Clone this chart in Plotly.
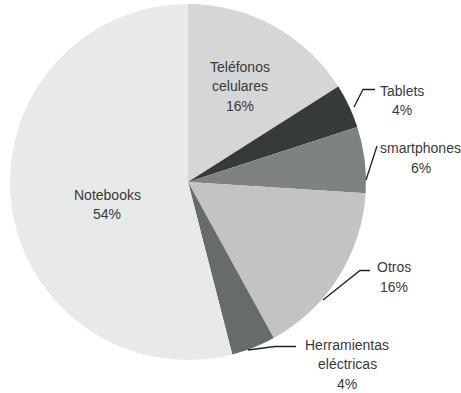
import plotly.graph_objects as go

labels = ["Teléfonos celulares", "Tablets", "smartphones", "Otros", "Herramientas eléctricas", "Notebooks"]
values = [16, 4, 6, 16, 4, 54]
colors = ["#d5d6d6", "#363b3a", "#7e8282", "#c2c3c5", "#676c6b", "#e8e9e9"]
label_text = ["Teléfonos<br>celulares<br>16%", "Tablets<br>4%", "smartphones<br>6%",
              "Otros<br>16%", "Herramientas<br>eléctricas<br>4%", "Notebooks<br>54%"]

W, H = 461, 393
FONT = "'Liberation Sans Narrow', 'Arial Narrow', 'Liberation Sans', Arial, sans-serif"
TXT = "#3a3a3a"
LINE_H = 19.7

def px(x, y):
    return x / W, 1 - y / H

cx, cy, r = 188, 182, 178
fig = go.Figure(go.Pie(
    labels=labels, values=values, sort=False, direction="clockwise", rotation=0,
    marker=dict(colors=colors, line=dict(width=0)),
    textinfo="none", hoverinfo="label+percent", showlegend=False,
    domain=dict(x=[(cx - r) / W, (cx + r) / W], y=[1 - (cy + r) / H, 1 - (cy - r) / H]),
))

# first-line pixel centers of each label block
label_pos = [(240, 66.5), (402, 90.5), (420.5, 148), (394, 267), (347, 344.5), (107, 194.5)]
annotations = []
for t, (x, y) in zip(label_text, label_pos):
    for i, line in enumerate(t.split("<br>")):
        ax_, ay_ = px(x, y + i * LINE_H)
        annotations.append(dict(text=line, x=ax_, y=ay_, xref="paper", yref="paper",
                                showarrow=False, xanchor="center", yanchor="middle",
                                font=dict(family=FONT, size=14, color=TXT)))

leaders = [
    [(354, 107), (363, 89.5), (375, 89.5)],
    [(366, 180), (377, 146)],
    [(323, 300), (360, 270.5), (370, 270.5)],
    [(248, 350), (275, 346.5), (296, 346.5)],
]
shapes = []
for pts in leaders:
    path = "M " + " L ".join(f"{px(x, y)[0]:.5f},{px(x, y)[1]:.5f}" for x, y in pts)
    shapes.append(dict(type="path", path=path, xref="paper", yref="paper",
                       line=dict(color="#222222", width=1.3)))

fig.update_layout(width=W, height=H, margin=dict(l=0, r=0, t=0, b=0),
                  paper_bgcolor="white", plot_bgcolor="white",
                  annotations=annotations, shapes=shapes)
fig.write_html("out.html")
